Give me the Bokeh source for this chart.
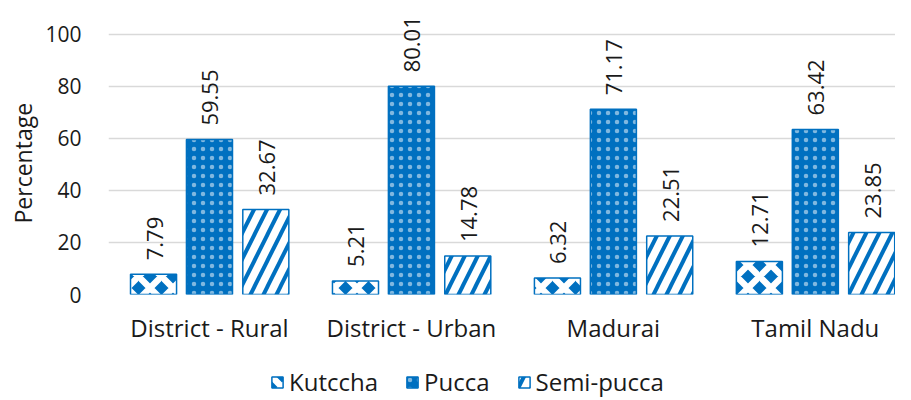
import math
from bokeh.plotting import figure
from bokeh.layouts import column
from bokeh.models import (ColumnDataSource, FixedTicker, Range1d, Legend, LegendItem,
                          LabelSet, Title)
from bokeh.core.properties import value
from bokeh.embed import file_html
from bokeh.resources import INLINE

categories = ["District - Rural", "District - Urban", "Madurai", "Tamil Nadu"]
kutccha = [7.79, 5.21, 6.32, 12.71]
pucca = [59.55, 80.01, 71.17, 63.42]
semi_pucca = [32.67, 14.78, 22.51, 23.85]
series_names = ["Kutccha", "Pucca", "Semi-pucca"]
y_ticks = [0, 20, 40, 60, 80, 100]

BLUE = "#0070C0"
TXT = "#1a1a1a"
FONT = "Open Sans"

styles = [
    dict(fill_color=BLUE, hatch_pattern="diagonal_cross", hatch_color="white",
         hatch_scale=23, hatch_weight=6.5),
    dict(fill_color=BLUE, hatch_pattern="dot", hatch_color="white",
         hatch_scale=9, hatch_alpha=0.5),
    dict(fill_color="white", hatch_pattern="right_diagonal_line", hatch_color=BLUE,
         hatch_scale=26, hatch_weight=4),
]

p = figure(width=895, height=346, output_backend="svg", toolbar_location=None,
           x_range=Range1d(-0.5, 3.397), y_range=Range1d(0, 108.78),
           min_border_left=100, min_border_right=0, min_border_top=11, min_border_bottom=50)
p.outline_line_color = None

idx = list(range(len(categories)))
offs = [-0.277, 0.0, 0.279]
bw = 0.228
all_vals = [kutccha, pucca, semi_pucca]
for vals, off, st in zip(all_vals, offs, styles):
    src = ColumnDataSource(dict(x=[i + off for i in idx], top=vals,
                                lab=[f"{v:.2f}" for v in vals]))
    p.vbar(x="x", top="top", width=bw, source=src, line_color=BLUE, line_width=1.5, **st)
    ls = LabelSet(x="x", y="top", text="lab", source=src, angle=math.pi / 2,
                  text_align="left", text_baseline="middle", y_offset=14, x_offset=1,
                  text_font=value(FONT), text_font_size="22px", text_color=TXT)
    p.add_layout(ls)

p.xaxis.ticker = FixedTicker(ticks=idx)
p.xaxis.major_label_overrides = {i: c for i, c in zip(idx, categories)}
p.xaxis.axis_line_color = None
p.xaxis.major_tick_line_color = None
p.xaxis.minor_tick_line_color = None
p.xaxis.major_tick_out = 0
p.xaxis.major_label_standoff = 16
p.xaxis.major_label_text_font = FONT
p.xaxis.major_label_text_font_size = "24px"
p.xaxis.major_label_text_color = TXT
p.xgrid.grid_line_color = None

p.yaxis.ticker = FixedTicker(ticks=y_ticks)
p.yaxis.axis_line_color = None
p.yaxis.major_tick_line_color = None
p.yaxis.minor_tick_line_color = None
p.yaxis.major_tick_out = 0
p.yaxis.major_label_standoff = 27
p.yaxis.major_label_text_font = FONT
p.yaxis.major_label_text_font_size = "21px"
p.yaxis.major_label_text_color = TXT
p.ygrid.grid_line_color = "#D9D9D9"
p.ygrid.grid_line_width = 1.5

ytitle = Title(text="Percentage", align="left", offset=71, standoff=8,
               text_font=FONT, text_font_size="23px", text_font_style="normal",
               text_color=TXT)
p.add_layout(ytitle, "left")

# legend strip: hidden proxy renderers carry the series styles for the legend glyphs
lf = figure(width=895, height=52, output_backend="svg", toolbar_location=None,
            x_range=Range1d(0, 1), y_range=Range1d(0, 1), x_axis_type=None, y_axis_type=None,
            min_border_left=0, min_border_right=0, min_border_top=0, min_border_bottom=0)
lf.outline_line_color = None
lf.grid.grid_line_color = None
items = []
for st, name in zip(styles, series_names):
    r = lf.vbar(x=[0.5], top=[1], width=0.1, line_color=BLUE, line_width=1.5,
                visible=False, **st)
    items.append(LegendItem(label=name, renderers=[r]))
legend = Legend(items=items, orientation="horizontal", location=(162, 0), padding=0, margin=0,
                spacing=27, glyph_width=14, glyph_height=14, label_standoff=5,
                label_text_font=FONT, label_text_font_size="24px", label_text_color=TXT,
                border_line_color=None, background_fill_alpha=0, inactive_fill_alpha=0)
lf.add_layout(legend)

open("out.html", "w").write(file_html(column(p, lf), INLINE))
